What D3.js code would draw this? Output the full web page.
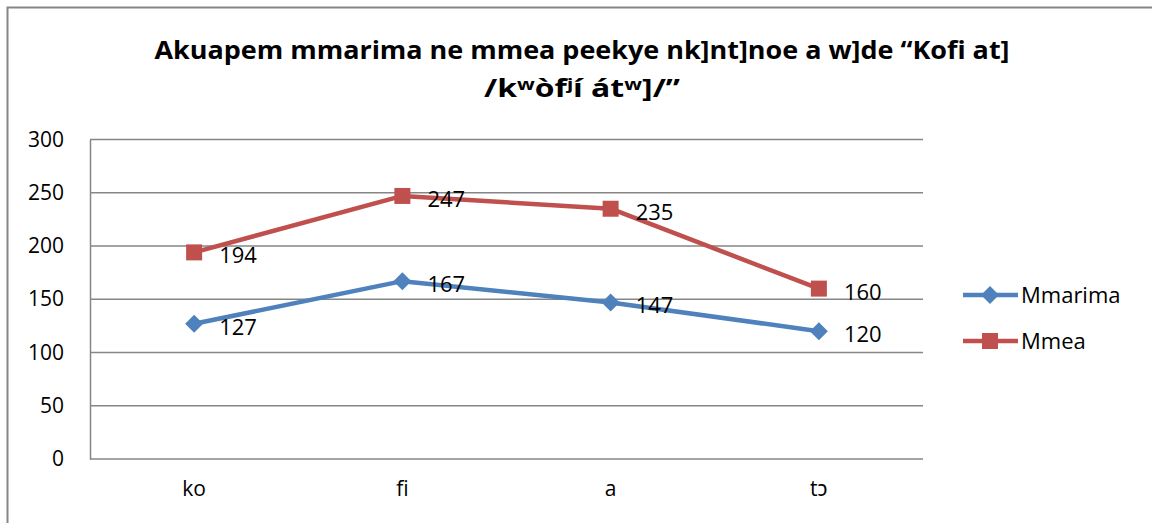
<!DOCTYPE html>
<html>
<head>
<meta charset="utf-8">
<script src="https://cdn.jsdelivr.net/npm/d3@7"></script>
<style>
  body { margin: 0; background: #fff; }
  svg text { font-family: "Open Sans", "Noto Sans", sans-serif; fill: #000; }
</style>
</head>
<body>
<div id="chart"></div>
<script>
const categories = ["ko", "fi", "a", "tɔ"];
const mmarima = [127, 167, 147, 120];
const mmea = [194, 247, 235, 160];
const yTicks = [0, 50, 100, 150, 200, 250, 300];
const titleLines = ["Akuapem mmarima ne mmea peekye nk]nt]noe a w]de “Kofi at]", "/kʷòfʲí átʷ]/”"];

const series = [
  { name: "Mmarima", values: mmarima, color: "#4F81BD", shape: "diamond" },
  { name: "Mmea", values: mmea, color: "#C0504D", shape: "square" }
];

const width = 1152, height = 523;
const plot = { left: 90, right: 923, top: 139.5, bottom: 459 };

const svg = d3.select("#chart").append("svg")
  .attr("width", width)
  .attr("height", height);

// chart border
svg.append("path")
  .attr("d", `M7.5,${height} V7.5 H${width}`)
  .attr("fill", "none")
  .attr("stroke", "#868686")
  .attr("stroke-width", 2);

const x = d3.scaleBand().domain(categories).range([plot.left, plot.right]);
const y = d3.scaleLinear().domain([0, 300]).range([plot.bottom, plot.top]);

// title
const title = svg.append("text")
  .attr("text-anchor", "middle")
  .attr("font-weight", "bold")
  .attr("font-size", 25);
const titleWidths = [855, 196];
titleLines.forEach((t, i) => {
  title.append("tspan")
    .attr("x", 582)
    .attr("y", 59 + i * 38)
    .attr("textLength", titleWidths[i])
    .attr("lengthAdjust", "spacingAndGlyphs")
    .text(t);
});

// gridlines
svg.append("g")
  .selectAll("line")
  .data(yTicks)
  .join("line")
  .attr("x1", plot.left)
  .attr("x2", plot.right)
  .attr("y1", d => y(d))
  .attr("y2", d => y(d))
  .attr("stroke", "#868686")
  .attr("stroke-width", 1.5);

// y axis
const yAxis = svg.append("g")
  .attr("transform", `translate(${plot.left},0)`)
  .call(d3.axisLeft(y).tickValues(yTicks).tickSize(0).tickPadding(26));
yAxis.select(".domain").attr("stroke", "#868686").attr("stroke-width", 1.5);
yAxis.selectAll("text").attr("font-size", 21).attr("font-family", "Open Sans, sans-serif");

// x axis labels
const xAxis = svg.append("g")
  .attr("transform", `translate(0,${plot.bottom})`)
  .call(d3.axisBottom(x).tickSize(0).tickPadding(22));
xAxis.select(".domain").remove();
xAxis.selectAll("text").attr("font-size", 21).attr("font-family", "Open Sans, sans-serif");

const cx = c => x(c) + x.bandwidth() / 2;
const line = d3.line().x((d, i) => cx(categories[i])).y(d => y(d));

function marker(g, shape, color) {
  if (shape === "diamond") {
    g.append("path").attr("d", "M0,-9 L9,0 L0,9 L-9,0 Z").attr("fill", color);
  } else {
    g.append("rect").attr("x", -8).attr("y", -8).attr("width", 16).attr("height", 16).attr("fill", color);
  }
}

series.forEach(s => {
  svg.append("path")
    .datum(s.values)
    .attr("d", line)
    .attr("fill", "none")
    .attr("stroke", s.color)
    .attr("stroke-width", 4.5)
    .attr("stroke-linejoin", "round");

  s.values.forEach((v, i) => {
    const g = svg.append("g").attr("transform", `translate(${cx(categories[i])},${y(v)})`);
    marker(g, s.shape, s.color);
    svg.append("text")
      .attr("x", cx(categories[i]) + 25)
      .attr("y", y(v) + 11)
      .attr("font-size", 22)
      .text(v);
  });
});

// legend
series.forEach((s, i) => {
  const ly = 295 + i * 46;
  svg.append("line")
    .attr("x1", 963).attr("x2", 1018)
    .attr("y1", ly).attr("y2", ly)
    .attr("stroke", s.color)
    .attr("stroke-width", 4.5);
  const g = svg.append("g").attr("transform", `translate(990,${ly})`);
  marker(g, s.shape, s.color);
  svg.append("text")
    .attr("x", 1021)
    .attr("y", ly + 8)
    .attr("font-size", 22)
    .text(s.name);
});
</script>
</body>
</html>
